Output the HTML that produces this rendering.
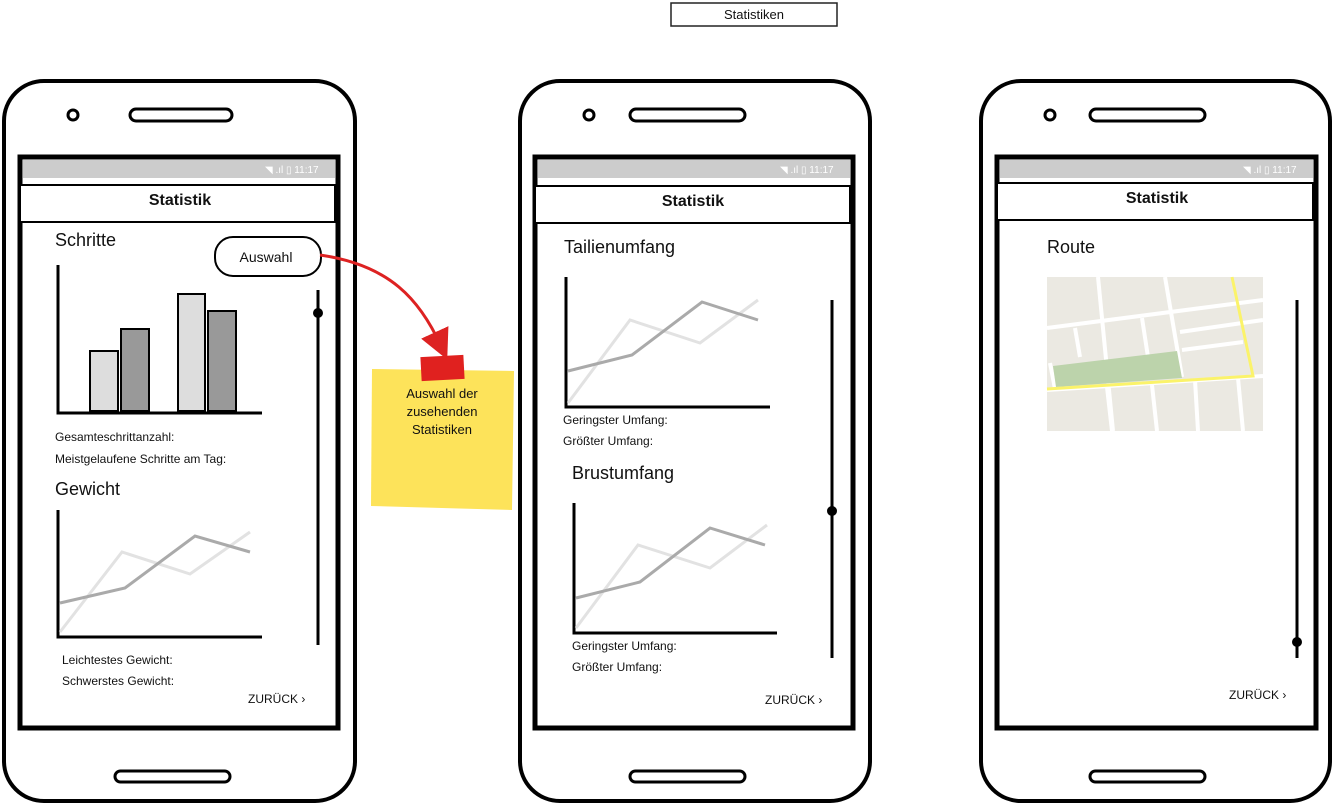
<!DOCTYPE html>
<html><head><meta charset="utf-8"><style>
body{margin:0;background:#fff;width:1333px;height:804px;overflow:hidden}
svg{display:block}
text{font-family:"Liberation Sans",sans-serif;fill:#111}
</style></head><body>
<svg width="1333" height="804" viewBox="0 0 1333 804">
<defs>
<marker id="ah" markerWidth="10" markerHeight="10" refX="5" refY="5" orient="auto"><path d="M0,0 L10,5 L0,10 z" fill="#d22"/></marker>
</defs>
<rect x="671" y="3" width="166" height="23" fill="#fff" stroke="#222" stroke-width="1.5"/>
<text x="754" y="19" font-size="13" text-anchor="middle">Statistiken</text>

<g fill="none" stroke="#000">
<rect x="4" y="81" width="351" height="720" rx="40" stroke-width="4"/>
<rect x="520" y="81" width="350" height="720" rx="40" stroke-width="4"/>
<rect x="981" y="81" width="349" height="720" rx="40" stroke-width="4"/>
<rect x="20" y="157" width="318" height="571" stroke-width="5"/>
<rect x="535" y="157" width="318" height="571" stroke-width="5"/>
<rect x="997" y="157" width="319" height="571" stroke-width="5"/>
<circle cx="73" cy="115" r="5" stroke-width="3"/>
<circle cx="589" cy="115" r="5" stroke-width="3"/>
<circle cx="1050" cy="115" r="5" stroke-width="3"/>
<rect x="130" y="109" width="102" height="12" rx="6" stroke-width="3"/>
<rect x="630" y="109" width="115" height="12" rx="6" stroke-width="3"/>
<rect x="1090" y="109" width="115" height="12" rx="6" stroke-width="3"/>
<rect x="115" y="771" width="115" height="11" rx="5.5" stroke-width="3"/>
<rect x="630" y="771" width="115" height="11" rx="5.5" stroke-width="3"/>
<rect x="1090" y="771" width="115" height="11" rx="5.5" stroke-width="3"/>
</g>
<g fill="#ccc">
<rect x="23" y="160" width="312" height="18"/>
<rect x="538" y="160" width="312" height="18"/>
<rect x="1000" y="160" width="313" height="18"/>
</g>
<g font-size="10">
<text x="265" y="173" style="fill:#fff">◥ .ıl ▯ 11:17</text>
<text x="780" y="173" style="fill:#fff">◥ .ıl ▯ 11:17</text>
<text x="1243" y="173" style="fill:#fff">◥ .ıl ▯ 11:17</text>
</g>
<g fill="#fff" stroke="#000" stroke-width="2">
<rect x="20" y="185" width="315" height="37"/>
<rect x="535" y="186" width="315" height="37"/>
<rect x="997" y="183" width="316" height="37"/>
</g>
<g font-size="16" font-weight="bold" text-anchor="middle">
<text x="180" y="205">Statistik</text>
<text x="693" y="206">Statistik</text>
<text x="1157" y="203">Statistik</text>
</g>

<text x="55" y="246" font-size="18">Schritte</text>
<rect x="215" y="237" width="106" height="39" rx="18" fill="#fff" stroke="#000" stroke-width="2"/>
<text x="266" y="262" font-size="14" text-anchor="middle">Auswahl</text>
<g stroke="#000" stroke-width="3" fill="none">
<path d="M58 265 V413 H262"/>
<path d="M58 510 V637 H262"/>
<path d="M318 290 V645"/>
<path d="M832 300 V658"/>
<path d="M1297 300 V658"/>
<path d="M566 277 V407 H770"/>
<path d="M574 503 V633 H777"/>
</g>
<g stroke="#000" stroke-width="2">
<rect x="90" y="351" width="28" height="60" fill="#ddd"/>
<rect x="121" y="329" width="28" height="82" fill="#999"/>
<rect x="178" y="294" width="27" height="117" fill="#ddd"/>
<rect x="208" y="311" width="28" height="100" fill="#999"/>
</g>
<g fill="#000"><circle cx="318" cy="313" r="5"/><circle cx="832" cy="511" r="5"/><circle cx="1297" cy="642" r="5"/></g>
<g fill="none" stroke-width="3">
<polyline points="60,632 122,552 190,574 250,532" stroke="#e2e2e2"/>
<polyline points="60,603 125,588 195,536 250,552" stroke="#aaa"/>
<polyline points="568,403 630,320 700,343 758,300" stroke="#e2e2e2"/>
<polyline points="568,371 632,355 702,302 758,320" stroke="#aaa"/>
<polyline points="576,628 638,545 710,568 767,525" stroke="#e2e2e2"/>
<polyline points="576,598 640,582 710,528 765,545" stroke="#aaa"/>
</g>
<g font-size="12">
<text x="55" y="441">Gesamteschrittanzahl:</text>
<text x="55" y="463">Meistgelaufene Schritte am Tag:</text>
<text x="62" y="664">Leichtestes Gewicht:</text>
<text x="62" y="685">Schwerstes Gewicht:</text>
<text x="563" y="424">Geringster Umfang:</text>
<text x="563" y="445">Größter Umfang:</text>
<text x="572" y="650">Geringster Umfang:</text>
<text x="572" y="671">Größter Umfang:</text>
<text x="248" y="703">ZURÜCK ›</text>
<text x="765" y="704">ZURÜCK ›</text>
<text x="1229" y="699">ZURÜCK ›</text>
</g>
<text x="55" y="495" font-size="18">Gewicht</text>
<text x="564" y="253" font-size="18">Tailienumfang</text>
<text x="572" y="479" font-size="18">Brustumfang</text>
<text x="1047" y="253" font-size="18">Route</text>

<rect x="1047" y="277" width="216" height="154" fill="#ebe9e2"/>
<g stroke="#fff" stroke-width="4" fill="none">
<path d="M1047 328 L1263 300"/><path d="M1180 332 L1263 320"/><path d="M1182 350 L1243 342"/>
<path d="M1263 376 L1047 390"/>
<path d="M1098 277 L1113 431"/><path d="M1165 277 L1182 377"/>
<path d="M1075 328 L1080 357"/><path d="M1142 318 L1148 357"/>
<path d="M1050 363 L1055 389"/>
<path d="M1107 387 L1112 431"/><path d="M1152 385 L1157 431"/><path d="M1195 380 L1198 431"/><path d="M1238 378 L1243 431"/>
</g>
<path d="M1053 366 L1177 351 L1182 378 L1056 387 Z" fill="#bcd3ab"/>
<path d="M1047 389 L1253 376 L1232 277" fill="none" stroke="#fbf36a" stroke-width="3"/>

<path d="M320 255 C390 265 420 300 441 346" fill="none" stroke="#d22" stroke-width="3" marker-end="url(#ah)"/>
<path d="M372 369 L514 371 L512 510 L371 506 Z" fill="#fde35a"/>
<rect x="421" y="356" width="43" height="24" fill="#e0211f" transform="rotate(-3 442 368)"/>
<g font-size="13" text-anchor="middle">
<text x="442" y="398">Auswahl der</text>
<text x="442" y="416">zusehenden</text>
<text x="442" y="434">Statistiken</text>
</g>
</svg>
</body></html>
